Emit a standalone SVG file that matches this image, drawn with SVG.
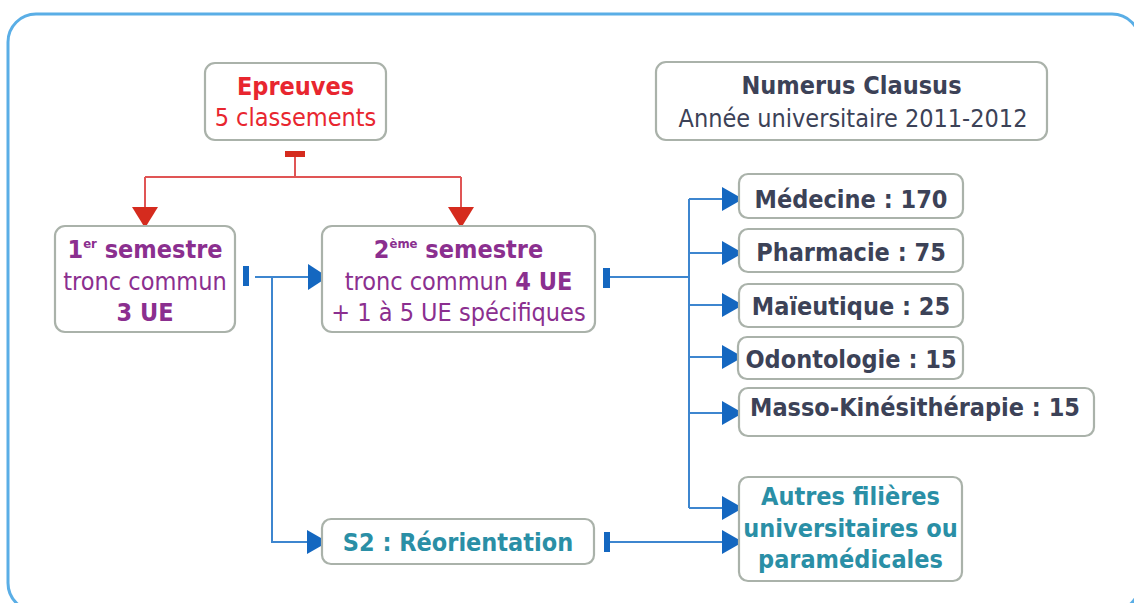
<svg xmlns="http://www.w3.org/2000/svg" width="1134" height="603" viewBox="0 0 1134 603">
<style>
.box{fill:#fff;stroke:#aab2aa;stroke-width:2.2}
text{font-family:"DejaVu Sans Condensed","DejaVu Sans",sans-serif;font-size:25px;text-anchor:middle}
.b{font-weight:bold}
.red{fill:#e8262f}
.pur{fill:#8b2f8f}
.nav{fill:#3c4257}
.teal{fill:#2a8fa6}
.rl{stroke:#e05555;stroke-width:2;fill:none}
.bl{stroke:#3d86cf;stroke-width:2;fill:none}
.ra{fill:#d52b1e}
.ba{fill:#1467c0}
</style>
<rect width="1134" height="603" fill="#fff"/>
<rect x="8" y="14" width="1132" height="597" rx="28" fill="none" stroke="#5aaee6" stroke-width="3"/>

<g id="connectors">
  <rect class="ra" x="285" y="151" width="20" height="6"/>
  <path class="rl" d="M295 157V177M145 177H461M145 177V208M461 177V208"/>
  <polygon class="ra" points="132,207 158,207 145,228"/>
  <polygon class="ra" points="448,207 474,207 461,228"/>

  <rect class="ba" x="243" y="266" width="6" height="20"/>
  <path class="bl" d="M255 277H310M272 277V542H310"/>
  <polygon class="ba" points="308,264 308,290 328,277"/>
  <polygon class="ba" points="307,530 307,554 328,542"/>

  <rect class="ba" x="603" y="268" width="7" height="20"/>
  <path class="bl" d="M610 277H689M689 199V508M689 199H724M689 253H724M689 305H724M689 357H724M689 413H724M689 508H724"/>
  <polygon class="ba" points="722,187 722,211 743,199"/>
  <polygon class="ba" points="722,241 722,265 743,253"/>
  <polygon class="ba" points="722,293 722,317 743,305"/>
  <polygon class="ba" points="722,345 722,369 743,357"/>
  <polygon class="ba" points="722,401 722,425 743,413"/>
  <polygon class="ba" points="722,496 722,520 743,508"/>

  <rect class="ba" x="604" y="532" width="6" height="20"/>
  <path class="bl" d="M610 542H724"/>
  <polygon class="ba" points="722,530 722,554 743,542"/>
</g>

<g id="epreuves">
  <rect class="box" x="205" y="63" width="181" height="77" rx="10"/>
  <text class="b red" x="295.5" y="95">Epreuves</text>
  <text class="red" x="295.5" y="126">5 classements</text>
</g>

<g id="numerus">
  <rect class="box" x="656" y="62" width="391" height="78" rx="10"/>
  <text class="b nav" x="851.5" y="94">Numerus Clausus</text>
  <text class="nav" x="853" y="127">Année universitaire 2011-2012</text>
</g>

<g id="sem1">
  <rect class="box" x="55" y="226" width="180" height="106" rx="10"/>
  <text class="b pur" x="145" y="258">1<tspan font-size="13" dy="-10">er</tspan><tspan dy="10"> semestre</tspan></text>
  <text class="pur" x="145" y="290">tronc commun</text>
  <text class="b pur" x="145" y="321">3 UE</text>
</g>

<g id="sem2">
  <rect class="box" x="322" y="226" width="273" height="106" rx="10"/>
  <text class="b pur" x="458.5" y="258">2<tspan font-size="13" dy="-10">ème</tspan><tspan dy="10"> semestre</tspan></text>
  <text class="pur" x="458.5" y="290">tronc commun <tspan class="b">4 UE</tspan></text>
  <text class="pur" x="458.5" y="321">+ 1 à 5 UE spécifiques</text>
</g>

<g id="medecine">
  <rect class="box" x="739" y="174" width="224" height="44" rx="9"/>
  <text class="b nav" x="851" y="208">Médecine : 170</text>
</g>
<g id="pharmacie">
  <rect class="box" x="739" y="229" width="224" height="43" rx="9"/>
  <text class="b nav" x="851" y="261">Pharmacie : 75</text>
</g>
<g id="maieutique">
  <rect class="box" x="739" y="284" width="224" height="43" rx="9"/>
  <text class="b nav" x="851" y="315">Maïeutique : 25</text>
</g>
<g id="odontologie">
  <rect class="box" x="738" y="337" width="225" height="42" rx="9"/>
  <text class="b nav" x="851" y="368">Odontologie : 15</text>
</g>
<g id="masso">
  <rect class="box" x="739" y="388" width="355" height="48" rx="9"/>
  <text class="b nav" x="915" y="416">Masso-Kinésithérapie : 15</text>
</g>
<g id="autres">
  <rect class="box" x="739" y="477" width="223" height="104" rx="9"/>
  <text class="b teal" x="850.5" y="505">Autres filières</text>
  <text class="b teal" x="850.5" y="537">universitaires ou</text>
  <text class="b teal" x="850.5" y="568">paramédicales</text>
</g>
<g id="s2">
  <rect class="box" x="322" y="519" width="272" height="45" rx="9"/>
  <text class="b teal" x="458" y="551">S2 : Réorientation</text>
</g>
</svg>
